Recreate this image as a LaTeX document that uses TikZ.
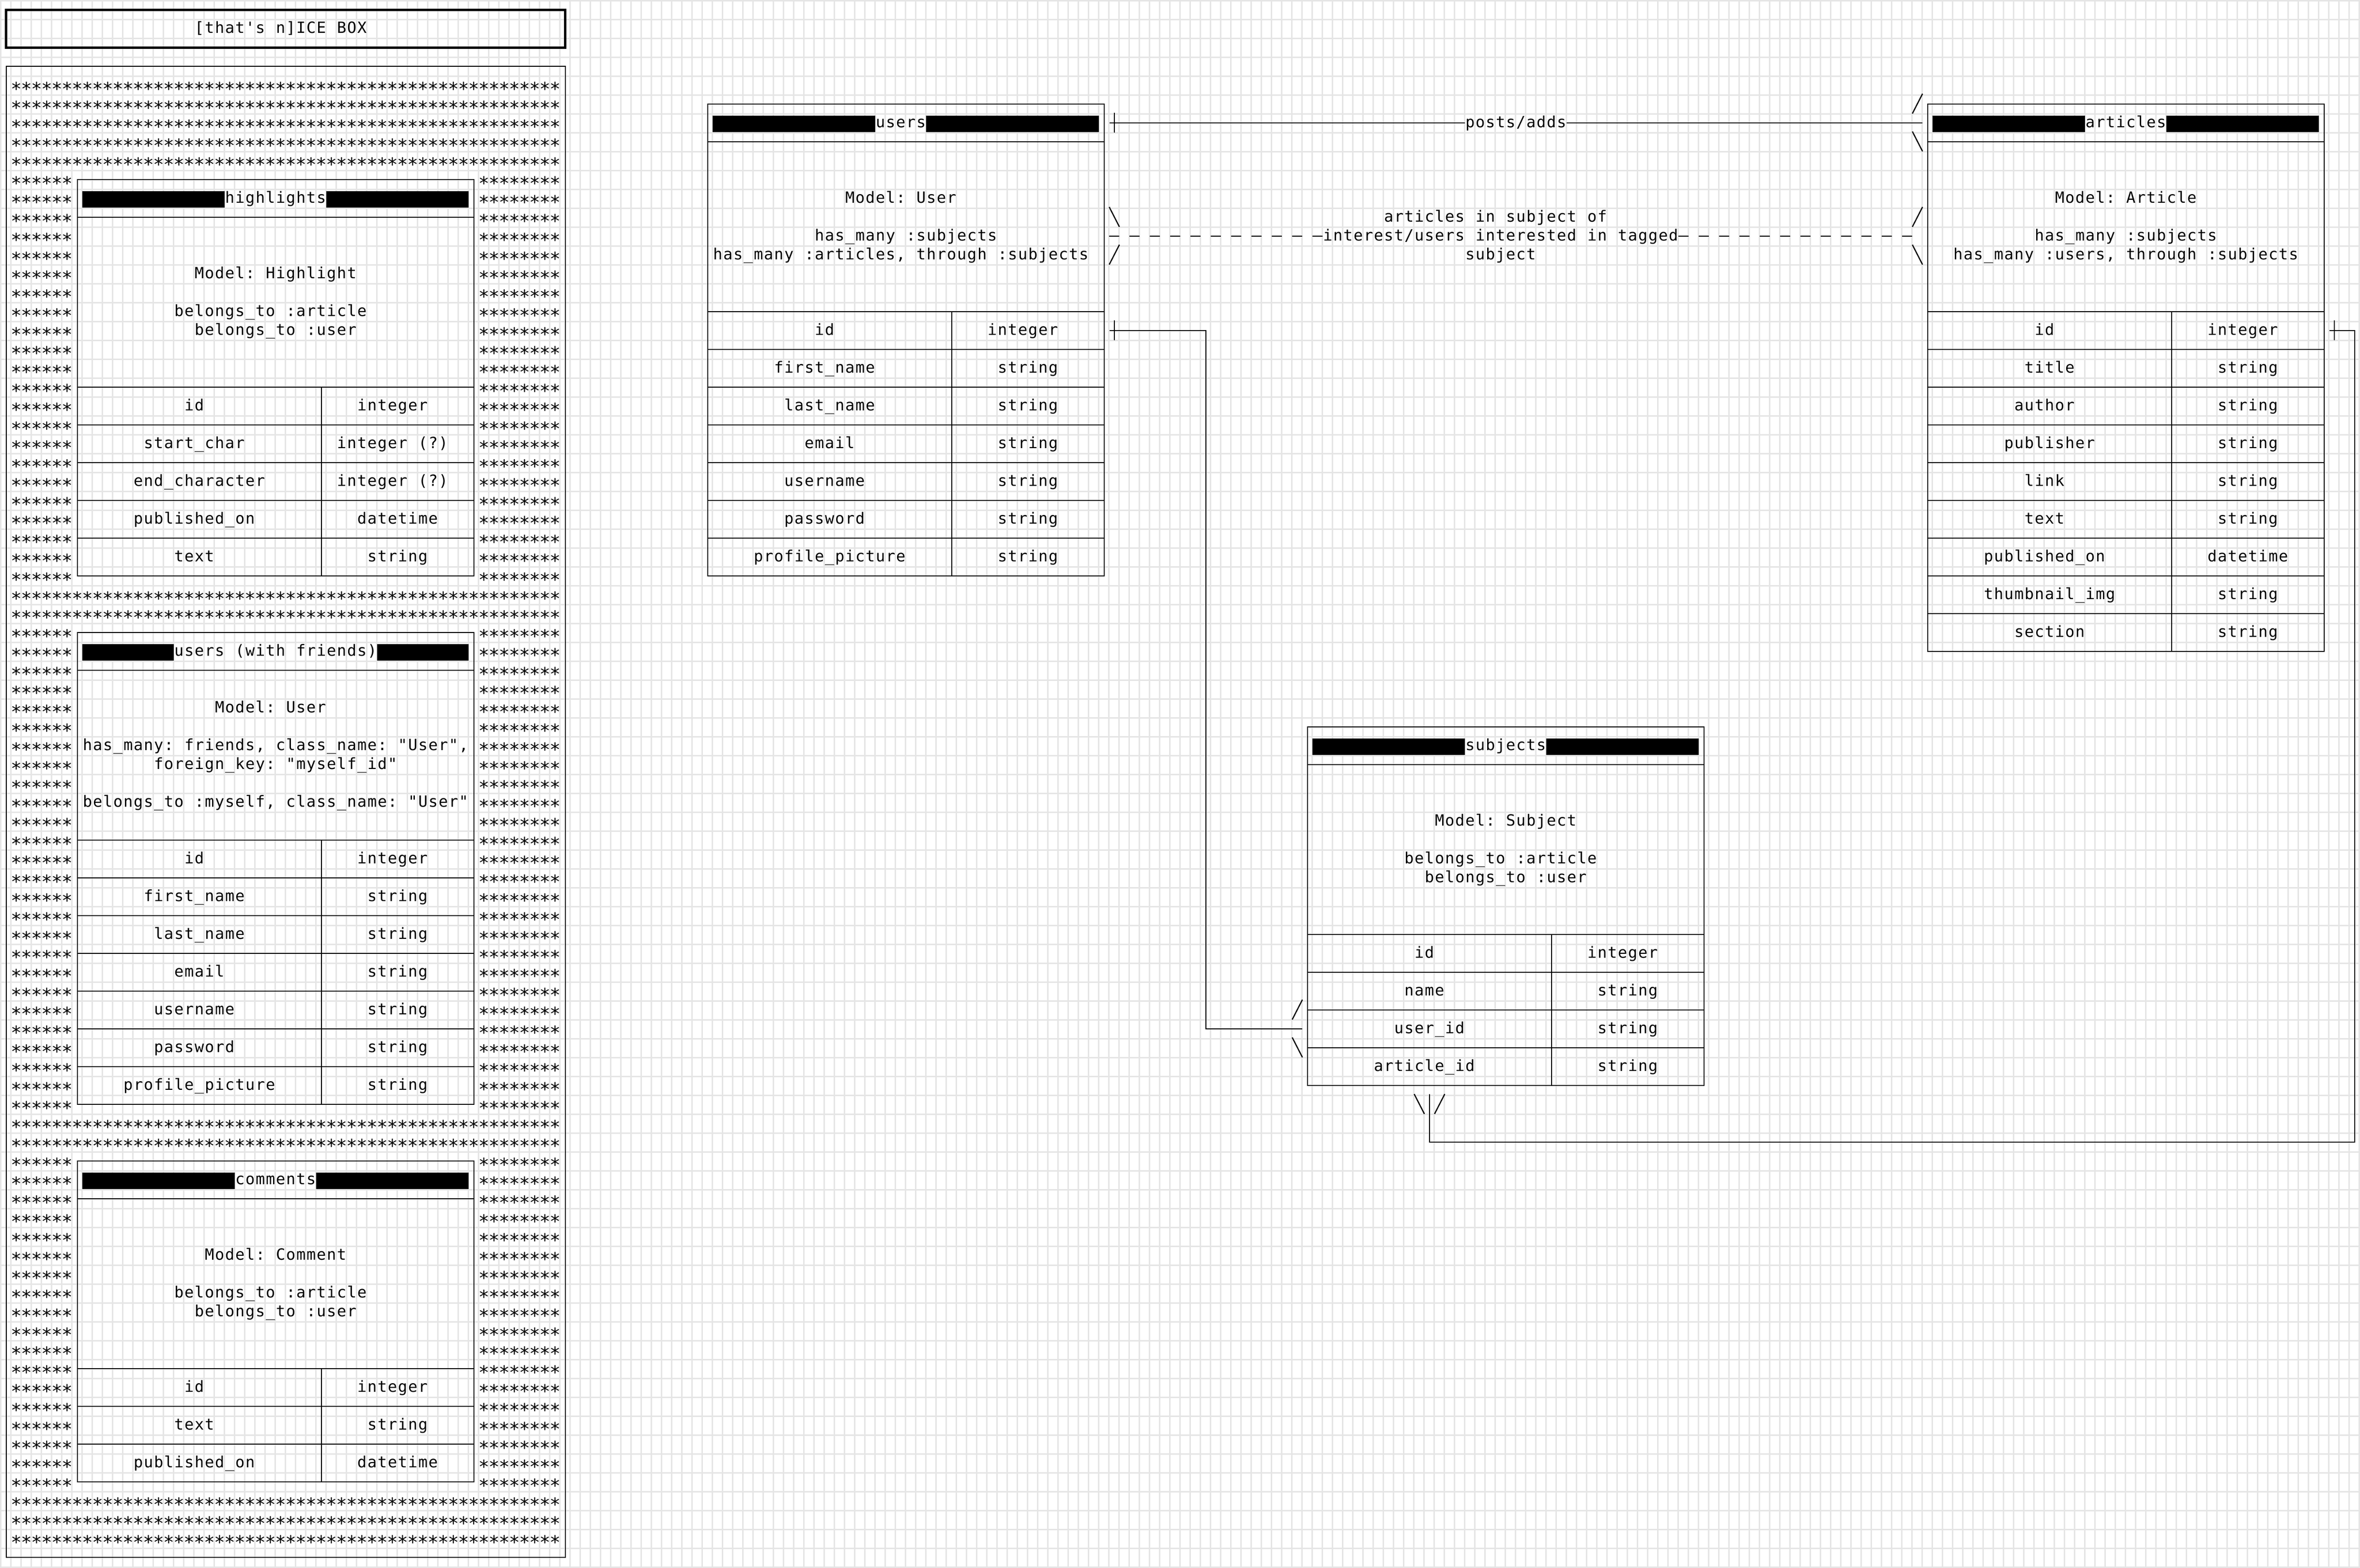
\documentclass[tikz,border=0pt]{standalone}
\usepackage{fontspec}
\setmonofont{DejaVu Sans Mono}
\newlength\cw
\setlength\cw{4.2pt}
\ExplSyntaxOn
\cs_new_protected:Npn \gridstr #1 { \str_map_inline:nn {#1} { \makebox[\cw]{##1} } }
\cs_new_protected:Npn \starrun #1 { \prg_replicate:nn {#1} { \makebox[\cw]{*} } }
\ExplSyntaxOff
\definecolor{gridc}{HTML}{E5E5E5}
\tikzset{
  ln/.style={draw=black, line width=0.48pt},
  boxn/.style={rectangle, draw=black, line width=0.48pt, inner sep=0pt, outer sep=0pt},
  txt/.style={inner sep=0pt, outer sep=0pt, anchor=west, text height=5.8pt, text depth=2pt, font=\fontsize{6.4pt}{7.8pt}\selectfont\ttfamily},
  startxt/.style={txt, yshift=-2.3pt, font=\fontsize{7.6pt}{7.8pt}\selectfont\ttfamily},
  gridl/.style={draw=gridc, line width=0.5pt},
  dashln/.style={ln, dash pattern=on 4.2pt off 4.2pt},
}
\newcommand\tx[4]{\node[txt] (#1) at (#2,#3+0.5) {\gridstr{#4}};}
\newcommand\slashF[2]{\draw[ln] (#1,#2+1) -- (#1+1,#2-0.05);}
\newcommand\slashB[2]{\draw[ln] (#1,#2-0.05) -- (#1+1,#2+1);}
\newcommand\tmark[2]{\draw[ln] (#1+0.5,#2-0.05) -- (#1+0.5,#2+1.02);}
\newcommand\blockrun[3]{\fill[black] (#1,#3+0.105) rectangle (#2,#3+0.97);}
\newcommand\erdfield[6]{\tx{#1-#2a}{#3}{#2}{#4}\tx{#1-#2b}{#5}{#2}{#6}}
\newcommand\erdbox[4]{%
  \pgfmathsetmacro\erdh{(11+2*#4)*7.8}%
  \node[boxn, minimum width=163.8pt, minimum height=\erdh pt, anchor=north west] (#1) at (#2+0.5,#3+0.5) {};%
  \draw[ln] (#2+0.5,#3+2.5) -- (#2+39.5,#3+2.5);%
  \draw[ln] (#2+0.5,#3+11.5) -- (#2+39.5,#3+11.5);%
  \foreach \k in {2,...,#4} {\draw[ln] (#2+0.5,#3+9.5+2*\k) -- (#2+39.5,#3+9.5+2*\k);}%
  \draw[ln] (#2+24.5,#3+11.5) -- (#2+24.5,#3+11.5+2*#4);%
}
\begin{document}
\begin{tikzpicture}[x=4.2pt,y=-7.8pt]
\useasboundingbox (0pt,0pt) rectangle (975pt,-648pt);
\fill[white] (0pt,0pt) rectangle (975pt,-648pt);
\foreach \k in {0,...,232} {\draw[gridl] ({\k*4.2pt+0.26pt},0pt) -- ++(0pt,-648pt);}
\foreach \k in {0,...,83} {\draw[gridl] (0pt,{-\k*7.8pt-0.26pt}) -- ++(975pt,0pt);}
\begin{scope}[xshift=0.46pt,yshift=-0.14pt]
% ---------- ICE BOX ----------
\node[boxn, line width=1pt, minimum width=231pt, minimum height=15.6pt, anchor=north west] (titlebox) at (0.5,0.5) {};
\tx{title}{19}{1}{[that's n]ICE BOX}
\node[boxn, minimum width=231pt, minimum height=616.2pt, anchor=north west] (icebox) at (0.5,3.5) {};
\foreach \r in {4,5,6,7,8,31,32,59,60,79,80,81} {\node[startxt] (sf\r) at (1,\r+0.5) {\starrun{54}};}
\foreach \r in {9,...,30} {\node[startxt] (sl\r) at (1,\r+0.5) {\starrun{6}}; \node[startxt] (sr\r) at (47,\r+0.5) {\starrun{8}};}
\foreach \r in {33,...,58} {\node[startxt] (sl\r) at (1,\r+0.5) {\starrun{6}}; \node[startxt] (sr\r) at (47,\r+0.5) {\starrun{8}};}
\foreach \r in {61,...,78} {\node[startxt] (sl\r) at (1,\r+0.5) {\starrun{6}}; \node[startxt] (sr\r) at (47,\r+0.5) {\starrun{8}};}
% highlights
\erdbox{hl}{7}{9}{5}
\blockrun{8}{22}{10}\blockrun{32}{46}{10}
\tx{hl-t}{22}{10}{highlights}
\tx{hl-m1}{19}{14}{Model: Highlight}
\tx{hl-m2}{17}{16}{belongs_to :article}
\tx{hl-m3}{19}{17}{belongs_to :user}
\erdfield{hl}{21}{18}{id}{35}{integer}
\erdfield{hl}{23}{14}{start_char}{33}{integer (?)}
\erdfield{hl}{25}{13}{end_character}{33}{integer (?)}
\erdfield{hl}{27}{13}{published_on}{35}{datetime}
\erdfield{hl}{29}{17}{text}{36}{string}
% users (with friends)
\erdbox{uf}{7}{33}{7}
\blockrun{8}{17}{34}\blockrun{37}{46}{34}
\tx{uf-t}{17}{34}{users (with friends)}
\tx{uf-m1}{21}{37}{Model: User}
\tx{uf-m2}{8}{39}{has_many: friends, class_name: "User",}
\tx{uf-m3}{15}{40}{foreign_key: "myself_id"}
\tx{uf-m4}{8}{42}{belongs_to :myself, class_name: "User"}
\erdfield{uf}{45}{18}{id}{35}{integer}
\erdfield{uf}{47}{14}{first_name}{36}{string}
\erdfield{uf}{49}{15}{last_name}{36}{string}
\erdfield{uf}{51}{17}{email}{36}{string}
\erdfield{uf}{53}{15}{username}{36}{string}
\erdfield{uf}{55}{15}{password}{36}{string}
\erdfield{uf}{57}{12}{profile_picture}{36}{string}
% comments
\erdbox{cm}{7}{61}{3}
\blockrun{8}{23}{62}\blockrun{31}{46}{62}
\tx{cm-t}{23}{62}{comments}
\tx{cm-m1}{20}{66}{Model: Comment}
\tx{cm-m2}{17}{68}{belongs_to :article}
\tx{cm-m3}{19}{69}{belongs_to :user}
\erdfield{cm}{73}{18}{id}{35}{integer}
\erdfield{cm}{75}{17}{text}{36}{string}
\erdfield{cm}{77}{13}{published_on}{35}{datetime}
% ---------- users ----------
\erdbox{us}{69}{5}{7}
\blockrun{70}{86}{6}\blockrun{91}{108}{6}
\tx{us-t}{86}{6}{users}
\tx{us-m1}{83}{10}{Model: User}
\tx{us-m2}{80}{12}{has_many :subjects}
\tx{us-m3}{70}{13}{has_many :articles, through :subjects}
\erdfield{us}{17}{80}{id}{97}{integer}
\erdfield{us}{19}{76}{first_name}{98}{string}
\erdfield{us}{21}{77}{last_name}{98}{string}
\erdfield{us}{23}{79}{email}{98}{string}
\erdfield{us}{25}{77}{username}{98}{string}
\erdfield{us}{27}{77}{password}{98}{string}
\erdfield{us}{29}{74}{profile_picture}{98}{string}
% ---------- articles ----------
\erdbox{ar}{189}{5}{9}
\blockrun{190}{205}{6}\blockrun{213}{228}{6}
\tx{ar-t}{205}{6}{articles}
\tx{ar-m1}{202}{10}{Model: Article}
\tx{ar-m2}{200}{12}{has_many :subjects}
\tx{ar-m3}{192}{13}{has_many :users, through :subjects}
\erdfield{ar}{17}{200}{id}{217}{integer}
\erdfield{ar}{19}{199}{title}{218}{string}
\erdfield{ar}{21}{198}{author}{218}{string}
\erdfield{ar}{23}{197}{publisher}{218}{string}
\erdfield{ar}{25}{199}{link}{218}{string}
\erdfield{ar}{27}{199}{text}{218}{string}
\erdfield{ar}{29}{195}{published_on}{217}{datetime}
\erdfield{ar}{31}{195}{thumbnail_img}{218}{string}
\erdfield{ar}{33}{198}{section}{218}{string}
% ---------- subjects ----------
\erdbox{sb}{128}{38}{4}
\blockrun{129}{144}{39}\blockrun{152}{167}{39}
\tx{sb-t}{144}{39}{subjects}
\tx{sb-m1}{141}{43}{Model: Subject}
\tx{sb-m2}{138}{45}{belongs_to :article}
\tx{sb-m3}{140}{46}{belongs_to :user}
\erdfield{sb}{50}{139}{id}{156}{integer}
\erdfield{sb}{52}{138}{name}{157}{string}
\erdfield{sb}{54}{137}{user_id}{157}{string}
\erdfield{sb}{56}{135}{article_id}{157}{string}
% ---------- posts/adds ----------
\tx{pa}{144}{6}{posts/adds}
\coordinate (pa-s) at (109.05,6.5);
\coordinate (pa-e) at (189,6.5);
\draw[ln] (pa-s) -- (pa.west);
\draw[ln] (pa.east) -- (pa-e);
\tmark{109}{6}
\slashF{188}{5}
\slashB{188}{7}
% ---------- dashed relation ----------
\tx{dl1}{136}{11}{articles in subject of}
\tx{dl2}{130}{12}{interest/users interested in tagged}
\tx{dl3}{144}{13}{subject}
\coordinate (da-s) at (109,12.5);
\coordinate (da-e) at (188,12.5);
\draw[dashln] (da-s) -- (dl2.west);
\draw[dashln] (dl2.east) -- (da-e);
\slashB{109}{11}\slashF{109}{13}
\slashF{188}{11}\slashB{188}{13}
% ---------- users.id -> subjects.user_id ----------
\coordinate (c3s) at (109.05,17.5);
\coordinate (c3e) at (128,54.5);
\draw[ln] (c3s) -- (118.5,17.5) -- (118.5,54.5) -- (c3e);
\tmark{109}{17}
\slashF{127}{53}\slashB{127}{55}
% ---------- articles.id -> subjects bottom ----------
\coordinate (c4s) at (229.05,17.5);
\coordinate (c4e) at (140.5,57.95);
\draw[ln] (c4s) -- (231.5,17.5) -- (231.5,60.5) -- (140.5,60.5) -- (c4e);
\tmark{229}{17}
\slashB{139}{58}\slashF{141}{58}
\end{scope}
\end{tikzpicture}
\end{document}
